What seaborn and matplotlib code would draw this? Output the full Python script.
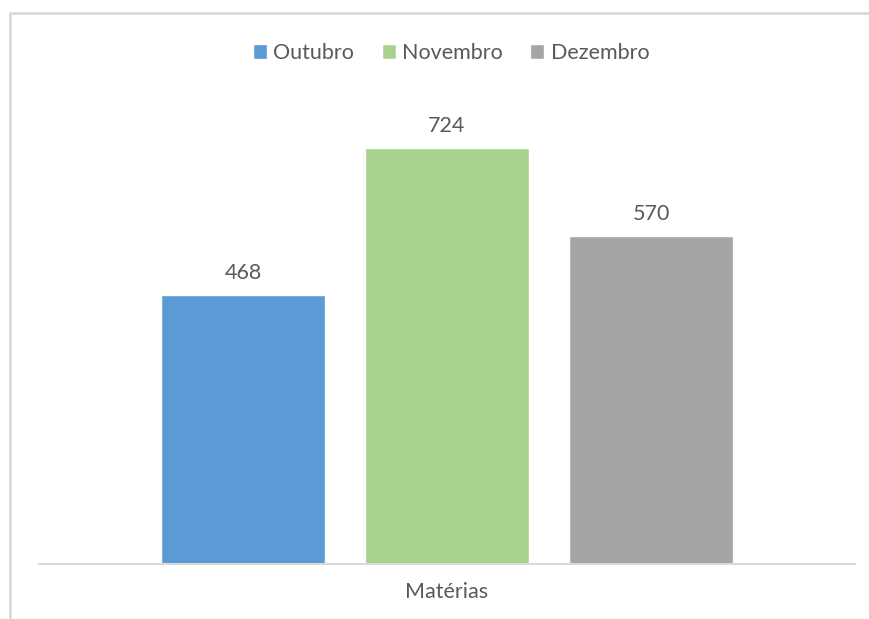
import matplotlib
matplotlib.use("Agg")
import matplotlib.pyplot as plt
import seaborn as sns
import pandas as pd
from matplotlib.patches import Rectangle

categories = ["Matérias"]
series = ["Outubro", "Novembro", "Dezembro"]
values = [468, 724, 570]
colors = ["#5B9BD5", "#A9D18E", "#A5A5A5"]

df = pd.DataFrame({"cat": categories * len(series), "mes": series, "val": values})

sns.set_theme(style="white")
plt.rcParams["font.family"] = ["Lato", "DejaVu Sans"]
TXT = "#595959"

W, H = 869, 619
fig = plt.figure(figsize=(W / 100, H / 100), dpi=100)
fig.patch.set_facecolor("white")

# outer chart border (cropped on right/bottom)
fig.add_artist(Rectangle((9.5 / W, -0.1), 1.2, 1 - 13.5 / H + 0.1, transform=fig.transFigure,
                         fill=False, edgecolor="#D9D9D9", linewidth=2))

left, right = 39 / W, 855 / W
bottom = 1 - 564 / H
top_px = 564 - 800 * (416 / 724)
ax = fig.add_axes([left, bottom, right - left, (564 - top_px) / H])

sns.barplot(data=df, x="cat", y="val", hue="mes", palette=colors, width=0.75, gap=0.2,
            ax=ax, legend=True, saturation=1)
ax.set_ylim(0, 800)
ax.set_xlim(-0.5, 0.5)
ax.set_yticks([])
ax.set_xlabel("")
ax.set_ylabel("")
for s in ["top", "left", "right"]:
    ax.spines[s].set_visible(False)
ax.spines["bottom"].set_color("#D9D9D9")
ax.spines["bottom"].set_linewidth(1.5)
ax.tick_params(axis="x", length=0, pad=13, labelsize=15.5, labelcolor=TXT)

for cont in ax.containers:
    ax.bar_label(cont, fmt="%d", padding=9, fontsize=15.5, color=TXT)

handles, labels = ax.get_legend_handles_labels()
ax.get_legend().remove()
fig.legend(handles, labels, loc="center", bbox_to_anchor=(451 / W, 1 - 53 / H), ncol=3,
           frameon=False, fontsize=15.5, labelcolor=TXT, handlelength=0.65, handleheight=0.65,
           handletextpad=0.28, columnspacing=1.3)

fig.savefig("out.png", dpi=100, facecolor="white")
